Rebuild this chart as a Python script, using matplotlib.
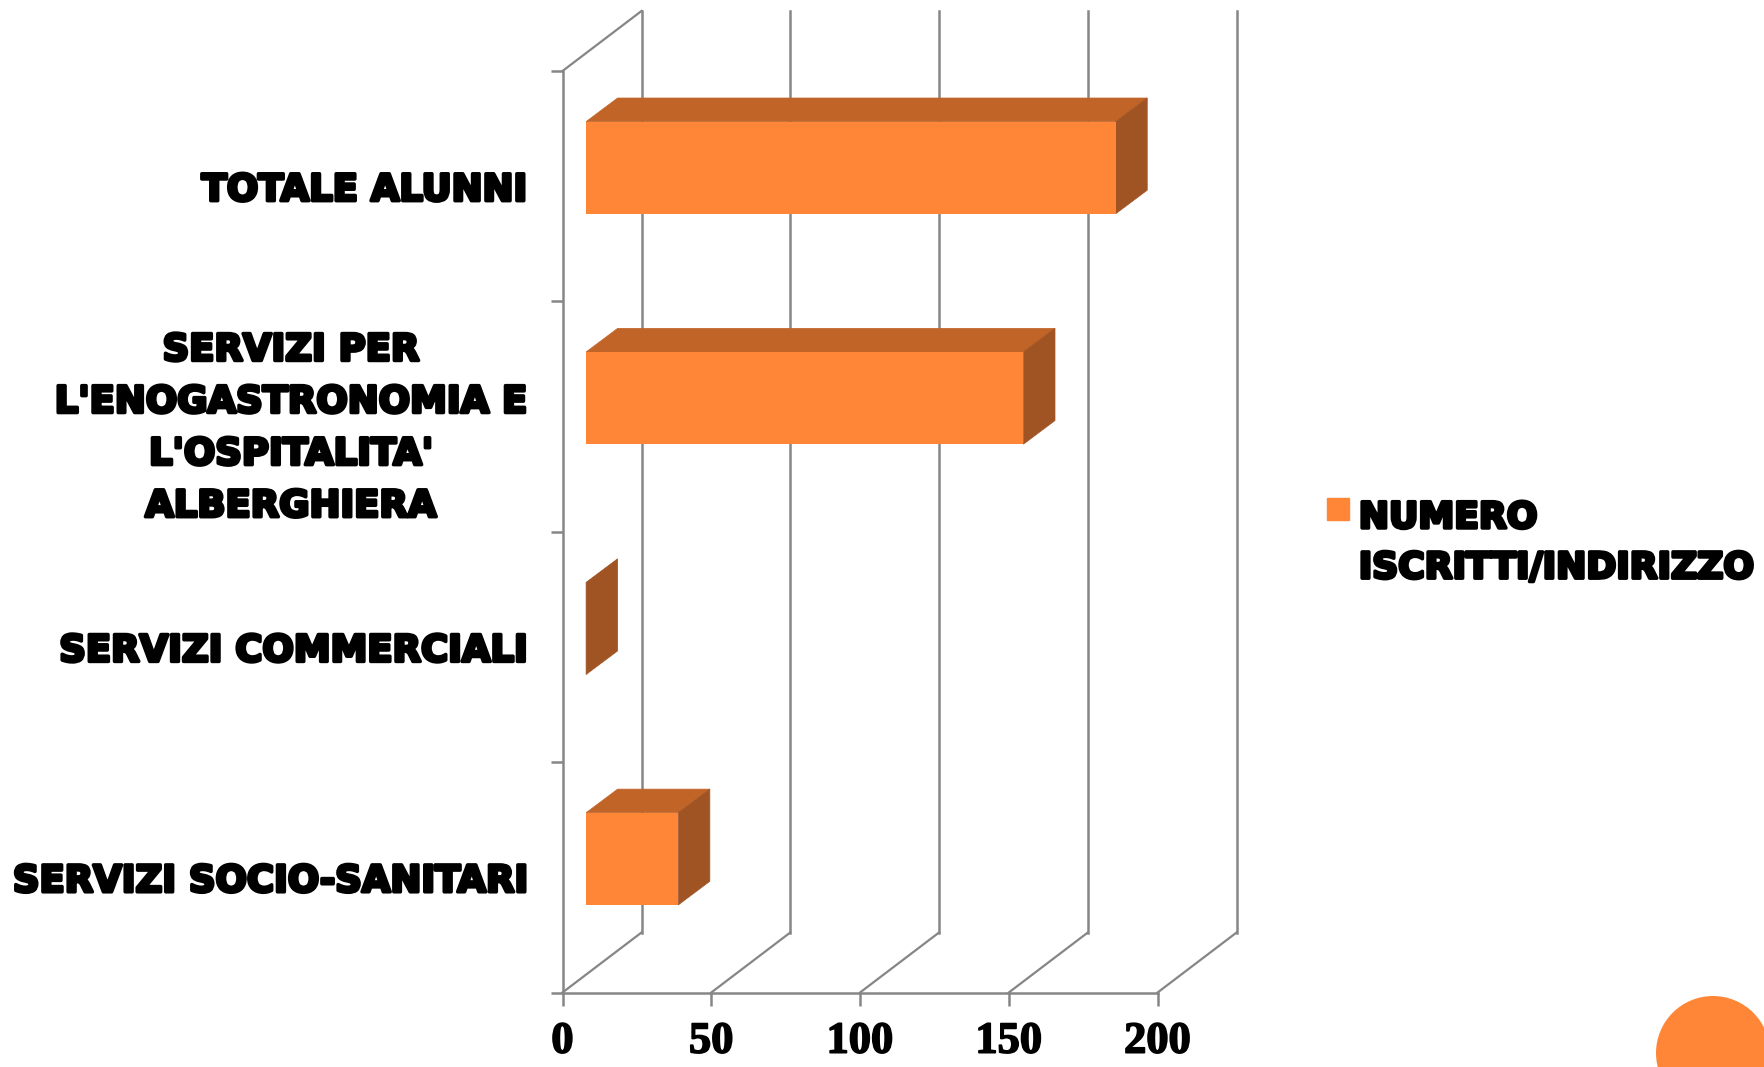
import matplotlib
matplotlib.use("Agg")
import matplotlib.pyplot as plt
import matplotlib.patheffects as pe
from matplotlib.patches import Patch, Polygon, Circle
from matplotlib.transforms import IdentityTransform

categories = ["SERVIZI SOCIO-SANITARI", "SERVIZI COMMERCIALI",
              "SERVIZI PER\nL'ENOGASTRONOMIA E\nL'OSPITALITA'\nALBERGHIERA", "TOTALE ALUNNI"]
values = [31, 0, 147, 178]
xticks = [0, 50, 100, 150, 200]
series_name = "NUMERO\nISCRITTI/INDIRIZZO"

FRONT, TOP, SIDE, GRID = "#FF8637", "#C06428", "#A05424", "#868686"
W, H = 1764, 1067
fig = plt.figure(figsize=(W/100, H/100), dpi=100, facecolor="white")
L, R, T, B = 562.5, 1157.6, 71, 992.5
ax = fig.add_axes([L/W, 1-B/H, (R-L)/W, (B-T)/H])
ax.set_xlim(0, 200); ax.set_ylim(0, 4)
ax.patch.set_visible(False)

# depth of walls and bars in data units
wx, wy = 79/(R-L)*200, 60/(B-T)*4
bx, by = 31.5/(R-L)*200, 23.6/(B-T)*4
ox, oy = 23.6/(R-L)*200, 18.5/(B-T)*4   # bar offset into the chart
bar_h = 0.4

for s in ["top", "right"]:
    ax.spines[s].set_visible(False)
for s in ["left", "bottom"]:
    ax.spines[s].set_color(GRID); ax.spines[s].set_linewidth(1.8)

for x in xticks:
    ax.plot([x, x+wx], [0, wy], color=GRID, lw=1.6, clip_on=False, zorder=1)
    ax.plot([x+wx, x+wx], [wy, 4+wy], color=GRID, lw=1.8, clip_on=False, zorder=1)
ax.plot([0, wx], [4, 4+wy], color=GRID, lw=1.6, clip_on=False, zorder=1)

# 3D bars
for i, v in enumerate(values):
    y0 = i+0.5-bar_h/2+oy
    x0, x1 = ox, ox+v
    y1 = y0+bar_h
    if v > 0:
        ax.add_patch(Polygon([(x0, y1), (x1, y1), (x1+bx, y1+by), (x0+bx, y1+by)],
                             fc=TOP, ec=TOP, lw=0.5, clip_on=False, zorder=3))
    ax.add_patch(Polygon([(x1, y0), (x1+bx, y0+by), (x1+bx, y1+by), (x1, y1)],
                         fc=SIDE, ec=SIDE, lw=0.5, clip_on=False, zorder=3))
ax.barh([i+0.5+oy for i in range(len(values))], values, height=bar_h, left=ox,
        color=FRONT, zorder=4, clip_on=False)

ax.set_xticks(xticks)
ax.set_yticks(range(5))
ax.set_yticklabels([])
ax.tick_params(axis="both", which="major", color=GRID, width=1.8, length=9)
ax.tick_params(axis="x", pad=12)
stroke = [pe.withStroke(linewidth=1.2, foreground="black")]
ax.set_xticklabels([str(x) for x in xticks], family="Liberation Serif", weight="bold",
                   fontsize=32, path_effects=stroke)
ax.set_yticks([i+0.5 for i in range(4)], minor=True)
ax.set_yticklabels(categories, minor=True, family="DejaVu Sans", weight="bold", fontsize=26.6,
                   multialignment="center", linespacing=1.52,
                   path_effects=[pe.withStroke(linewidth=2.5, foreground="black")])
ax.tick_params(axis="y", which="minor", length=0, pad=26)

leg = fig.legend(handles=[Patch(color=FRONT, label=series_name)], frameon=False,
                 loc="upper left", bbox_to_anchor=(1327/W, 1-501/H), borderaxespad=0, borderpad=0,
                 handlelength=0.6, handleheight=0.6, handletextpad=0.28,
                 prop={"family": "DejaVu Sans", "weight": "bold", "size": 26}, labelspacing=0)
for t in leg.get_texts():
    t.set_path_effects([pe.withStroke(linewidth=2.5, foreground="black")])
    t.set_linespacing(1.6)
leg.legend_handles[0].set_y(26)

fig.add_artist(Circle((1713, H-1053), 57, transform=IdentityTransform(), fc=FRONT, ec="none"))
fig.savefig("out.png", dpi=100, facecolor="white")
